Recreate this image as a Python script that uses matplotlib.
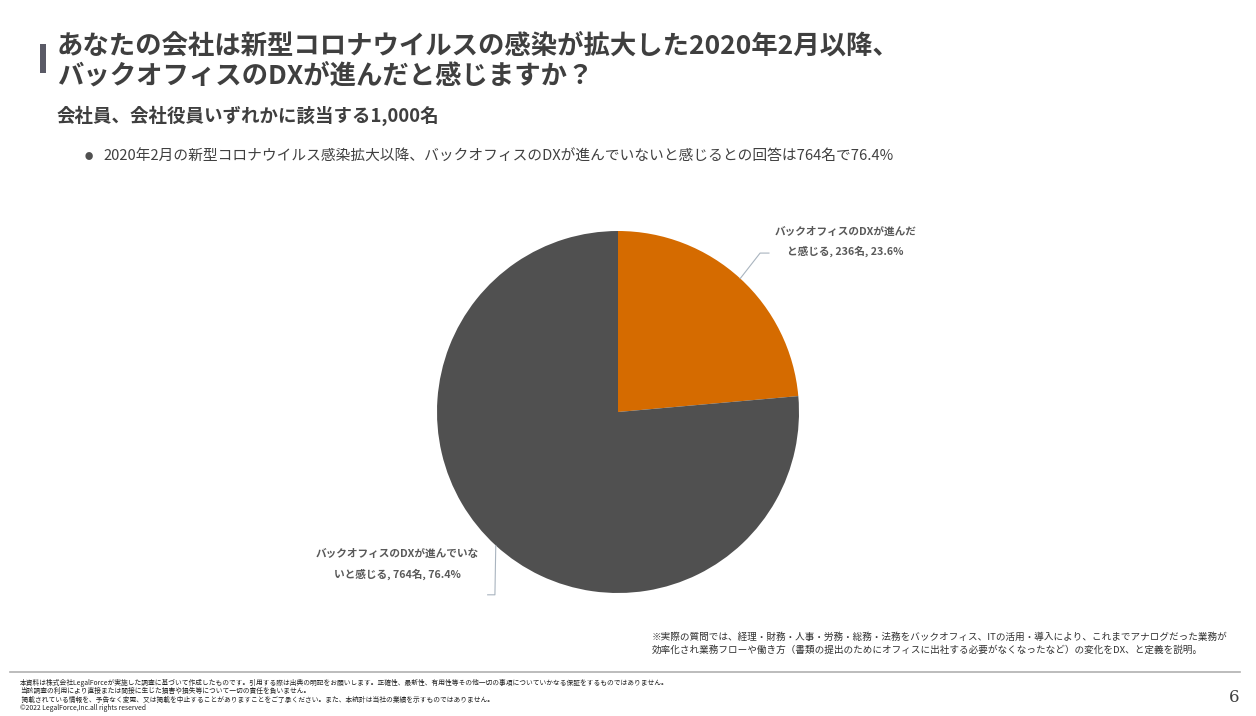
import numpy as np
import matplotlib.pyplot as plt
from matplotlib.patches import Rectangle
from matplotlib.lines import Line2D

plt.rcParams['font.family'] = ['Noto Sans CJK JP', 'DejaVu Sans']

# data
labels = ["バックオフィスのDXが進んだ\nと感じる, 236名, 23.6%",
          "バックオフィスのDXが進んでいな\nいと感じる, 764名, 76.4%"]
counts = [236, 764]
colors = ["#D56B00", "#505050"]

title_lines = ["あなたの会社は新型コロナウイルスの感染が拡大した2020年2月以降、",
               "バックオフィスのDXが進んだと感じますか？"]
subtitle = "会社員、会社役員いずれかに該当する1,000名"
bullet = "2020年2月の新型コロナウイルス感染拡大以降、バックオフィスのDXが進んでいないと感じるとの回答は764名で76.4%"
note = ["※実際の質問では、経理・財務・人事・労務・総務・法務をバックオフィス、ITの活用・導入により、これまでアナログだった業務が",
        "効率化され業務フローや働き方（書類の提出のためにオフィスに出社する必要がなくなったなど）の変化をDX、と定義を説明。"]
footer = ["本資料は株式会社LegalForceが実施した調査に基づいて作成したものです。引用する際は出典の明記をお願いします。正確性、最新性、有用性等その他一切の事項についていかなる保証をするものではありません。",
          "当該調査の利用により直接または間接に生じた損害や損失等について一切の責任を負いません。",
          " 掲載されている情報を、予告なく変更、又は掲載を中止することがありますことをご了承ください。また、本統計は当社の業績を示すものではありません。",
          "©2022 LegalForce,Inc.all rights reserved"]

W, H = 1256, 716
fig = plt.figure(figsize=(W / 100, H / 100), dpi=100)
fig.patch.set_facecolor("white")

def fx(px):
    return px / W

def fy(py):
    return 1 - py / H

# header
fig.patches.append(Rectangle((fx(40), fy(73)), fx(6), 29 / H, transform=fig.transFigure,
                             facecolor="#5a5a66", edgecolor="none"))
fig.text(fx(57), fy(46), title_lines[0], fontsize=19, fontweight="bold", color="#3f3f3f", va="center")
fig.text(fx(57), fy(76), title_lines[1], fontsize=19, fontweight="bold", color="#3f3f3f", va="center")
fig.text(fx(57), fy(116), subtitle, fontsize=13.3, fontweight="bold", color="#3f3f3f", va="center")
fig.text(fx(85), fy(157), "●", fontsize=6, color="#505050", va="center")
fig.text(fx(103), fy(157), bullet, fontsize=10.6, color="#404040", va="center")

# pie
cx, cy, r = 618, 412, 181
ax = fig.add_axes([fx(cx - r), fy(cy + r), 2 * r / W, 2 * r / H])
wedges, _ = ax.pie(counts, colors=colors, startangle=90, counterclock=False,
                   wedgeprops=dict(linewidth=0))
ax.set_xlim(-1, 1)
ax.set_ylim(-1, 1)
ax.axis("off")

# labels with leader lines
label_pos = [(1.255, 0.94), (-1.22, -0.84)]
leader_ends = [[(0.785, 0.878), (0.834, 0.878)], [(-0.68, -1.01), (-0.72, -1.01)]]
for w, lab, pos, ends in zip(wedges, labels, label_pos, leader_ends):
    ang = np.deg2rad((w.theta1 + w.theta2) / 2)
    x0, y0 = np.cos(ang), np.sin(ang)
    xs = [x0] + [p[0] for p in ends]
    ys = [y0] + [p[1] for p in ends]
    ax.add_line(Line2D(xs, ys, color="#a9b4bf", linewidth=0.8, clip_on=False))
    ax.text(pos[0], pos[1], lab, ha="center", va="center", fontsize=7.7, color="#595959",
            fontweight="bold", linespacing=2.05, clip_on=False)

# note
fig.text(fx(652), fy(637), note[0], fontsize=6.9, color="#303030", va="center")
fig.text(fx(652), fy(650), note[1], fontsize=6.9, color="#303030", va="center")

# footer
fig.add_artist(Line2D([fx(10), fx(1240)], [fy(672), fy(672)], transform=fig.transFigure,
                      color="#b0b0b0", linewidth=1.2))
for i, line in enumerate(footer):
    fig.text(fx(20), fy(683 + 8.3 * i), line, fontsize=4.85, color="#202020", va="center")
fig.text(fx(1229), fy(697), "6", fontsize=12, color="#404040", va="center", family="DejaVu Serif")

fig.savefig("out.png", dpi=100)
